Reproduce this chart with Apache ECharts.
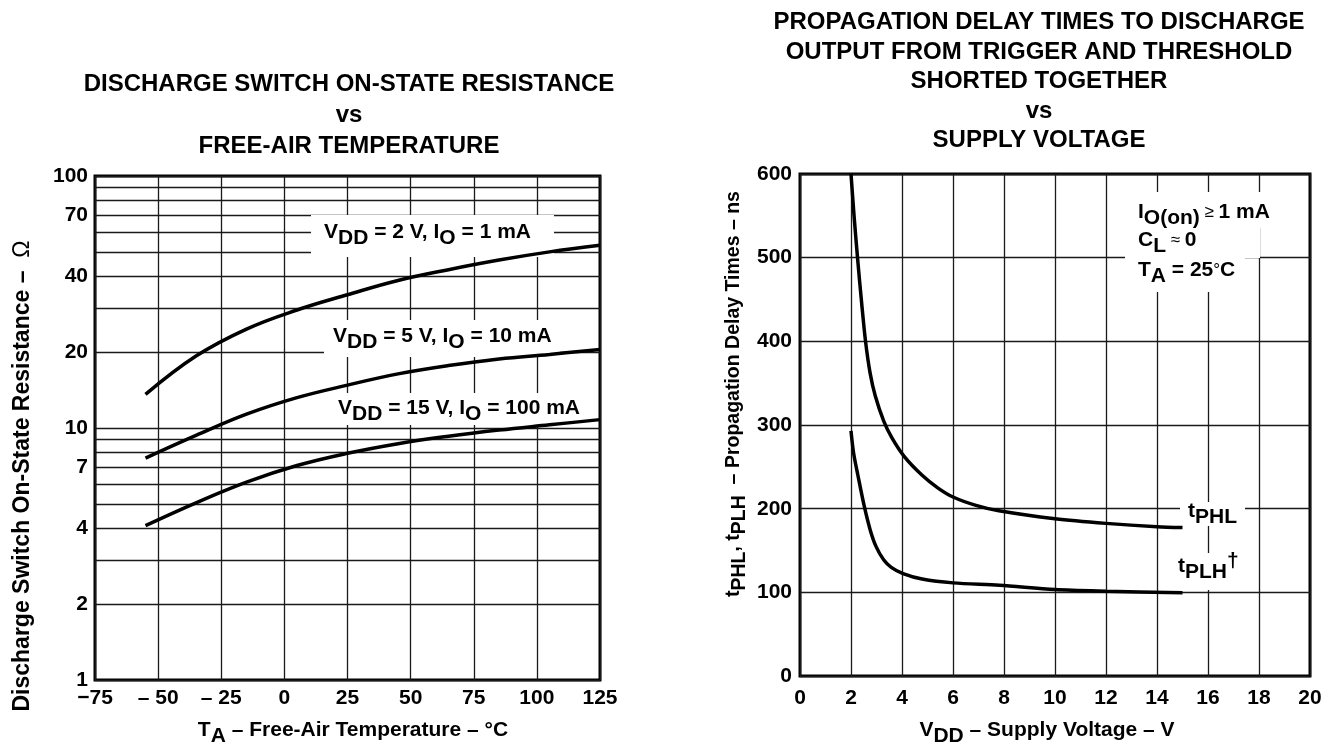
<!DOCTYPE html>
<html>
<head>
<meta charset="utf-8">
<script src="https://cdn.jsdelivr.net/npm/echarts@6/dist/echarts.min.js"></script>
<style>
html,body{margin:0;padding:0;background:#fff;}
#c{width:1330px;height:752px;}
</style>
</head>
<body>
<div id="c"></div>
<script>
// ---------- Left chart data ----------
const tempC = [-55, -35, -15, 5, 25, 45, 65, 85, 105, 125];
const ron2V = [13.6, 19.3, 24.7, 29.4, 33.8, 38.5, 42.5, 46.4, 50.0, 53.1];
const ron5V = [7.6, 9.35, 11.35, 13.2, 14.8, 16.4, 17.7, 18.8, 19.6, 20.5];
const ron15V = [4.1, 5.05, 6.1, 7.1, 7.94, 8.67, 9.28, 9.82, 10.3, 10.8];
const tempTickLabels = ['\u221275', '\u2013 50', '\u2013 25', '0', '25', '50', '75', '100', '125'];
const ronLabelValues = [1, 2, 4, 7, 10, 20, 40, 70, 100];
const ronGridValues = [1, 2, 3, 4, 5, 6, 7, 8, 9, 10, 20, 30, 40, 50, 60, 70, 80, 90, 100];

// ---------- Right chart data ----------
const vddPHL = [2.0, 2.12, 2.27, 2.42, 2.57, 2.75, 2.95, 3.28, 3.6, 4.1, 4.79, 5.4, 6.0, 6.9, 7.8, 10, 12, 14, 15];
const tPHL = [600, 550, 495, 445, 400, 362, 335, 305, 285, 262, 240, 225, 214, 204, 197.5, 188, 182.5, 178.5, 177.5];
const vddPLH = [2.0, 2.1, 2.27, 2.52, 2.75, 2.98, 3.28, 3.58, 4.04, 4.79, 6.0, 7.82, 10, 12, 15];
const tPLH = [293, 267, 240, 203, 175, 155, 139, 130, 122.5, 116, 111.4, 108.6, 103.5, 101.5, 99.5];

const FONT = '"Liberation Sans", Arial, Helvetica, sans-serif';
const FS = 21;
function pairs(xs, ys) { return xs.map((x, i) => [x, ys[i]]); }

function makeRich(fs) {
  return {
    n: { fontFamily: FONT, fontSize: fs, fontWeight: 'bold', color: '#000', lineHeight: fs + 1 },
    s: { fontFamily: FONT, fontSize: fs, fontWeight: 'bold', color: '#000', lineHeight: fs + 1, padding: [12, 0, 0, 0] },
    m: { fontFamily: FONT, fontSize: 17, fontWeight: 'normal', color: '#000', lineHeight: fs + 1 },
    o: { fontFamily: FONT, fontSize: fs, fontWeight: 'normal', color: '#000', lineHeight: fs + 1 },
    sup: { fontFamily: FONT, fontSize: fs, fontWeight: 'bold', color: '#000', lineHeight: fs + 1, padding: [0, 0, 10, 0] }
  };
}
const richBase = makeRich(FS);

const lineStyle = { color: '#000', width: 3.5 };
const splitStyle = { show: true, lineStyle: { color: '#1a1a1a', width: 1.3 } };
const labelStyle = { fontFamily: FONT, fontSize: FS, fontWeight: 'bold', color: '#000' };

function box(x, y, w, h) {
  return { type: 'rect', z: 1, shape: { x: x, y: y, width: w, height: h }, style: { fill: '#fff' }, silent: true };
}
function txt(x, y, text) {
  return { type: 'text', z: 5, x: x, y: y, style: { text: text, rich: richBase, align: 'left', verticalAlign: 'middle' }, silent: true };
}

const chart = echarts.init(document.getElementById('c'), null, { renderer: 'canvas' });
chart.setOption({
  backgroundColor: '#fff',
  animation: false,
  title: [
    { text: 'DISCHARGE SWITCH ON-STATE RESISTANCE\nvs\nFREE-AIR TEMPERATURE', left: 344, top: 64, textAlign: 'center',
      textStyle: { fontFamily: FONT, fontSize: 24, fontWeight: 'bold', color: '#000', lineHeight: 31 } },
    { text: 'PROPAGATION DELAY TIMES TO DISCHARGE\nOUTPUT FROM TRIGGER AND THRESHOLD\nSHORTED TOGETHER\nvs\nSUPPLY VOLTAGE', left: 1034, top: 3, textAlign: 'center',
      textStyle: { fontFamily: FONT, fontSize: 24, fontWeight: 'bold', color: '#000', lineHeight: 29.5 } }
  ],
  grid: [
    { left: 95, right: 730, top: 176, bottom: 67, show: true, borderColor: '#000', borderWidth: 3, backgroundColor: 'transparent' },
    { left: 800, right: 20, top: 174, bottom: 71, show: true, borderColor: '#000', borderWidth: 3, backgroundColor: 'transparent' }
  ],
  xAxis: [
    { type: 'value', gridIndex: 0, min: -75, max: 125, interval: 25,
      axisLine: { show: false }, axisTick: { show: false }, splitLine: splitStyle,
      axisLabel: Object.assign({}, labelStyle, { margin: 8, formatter: v => tempTickLabels[Math.round((v + 75) / 25)] }),
      name: '{n|T}{s|A}{n| \u2013 Free-Air Temperature \u2013 \u00b0C}', nameLocation: 'middle', nameGap: 30,
      nameTextStyle: { rich: richBase, padding: [0, 0, 0, 11] } },
    { type: 'value', gridIndex: 1, min: 0, max: 20, interval: 2,
      axisLine: { show: false }, axisTick: { show: false }, splitLine: splitStyle,
      axisLabel: Object.assign({}, labelStyle, { margin: 12 }),
      name: '{n|V}{s|DD}{n| \u2013 Supply Voltage \u2013 V}', nameLocation: 'middle', nameGap: 36,
      nameTextStyle: { rich: richBase, padding: [0, 16, 0, 0] } }
  ],
  yAxis: [
    { type: 'log', gridIndex: 0, min: 1, max: 100, logBase: 10,
      axisLine: { show: false },
      axisTick: { show: false, customValues: ronGridValues },
      splitLine: splitStyle,
      axisLabel: Object.assign({}, labelStyle, { margin: 7, customValues: ronLabelValues, formatter: v => String(Math.round(v)) }),
      name: '{n|Discharge Switch On-State Resistance \u2013  }{o|\u03a9}', nameLocation: 'middle', nameRotate: 90, nameGap: 60,
      nameTextStyle: { rich: makeRich(23), padding: [0, 96, 0, 0] } },
    { type: 'value', gridIndex: 1, min: 0, max: 600, interval: 100,
      axisLine: { show: false }, axisTick: { show: false }, splitLine: splitStyle,
      axisLabel: Object.assign({}, labelStyle, { margin: 8 }),
      name: '{n|t}{s|PHL}{n|, t}{s|PLH}{n|  \u2013 Propagation Delay Times \u2013 ns}', nameLocation: 'middle', nameRotate: 90, nameGap: 56,
      nameTextStyle: { rich: makeRich(19.5), padding: [0, 0, 0, 62] } }
  ],
  series: [
    { type: 'line', name: 'VDD = 2 V', xAxisIndex: 0, yAxisIndex: 0, data: pairs(tempC, ron2V), smooth: 0.4, showSymbol: false, lineStyle: lineStyle, z: 3 },
    { type: 'line', name: 'VDD = 5 V', xAxisIndex: 0, yAxisIndex: 0, data: pairs(tempC, ron5V), smooth: 0.4, showSymbol: false, lineStyle: lineStyle, z: 3 },
    { type: 'line', name: 'VDD = 15 V', xAxisIndex: 0, yAxisIndex: 0, data: pairs(tempC, ron15V), smooth: 0.4, showSymbol: false, lineStyle: lineStyle, z: 3 },
    { type: 'line', name: 'tPHL', xAxisIndex: 1, yAxisIndex: 1, data: pairs(vddPHL, tPHL), smooth: 0.3, showSymbol: false, lineStyle: lineStyle, z: 3 },
    { type: 'line', name: 'tPLH', xAxisIndex: 1, yAxisIndex: 1, data: pairs(vddPLH, tPLH), smooth: 0.3, showSymbol: false, lineStyle: lineStyle, z: 3 }
  ],
  graphic: [
    box(311, 215, 243, 42),
    box(324, 320, 236, 37),
    box(327, 393, 263, 32),
    box(1125, 192, 160, 36),
    box(1125, 228, 135, 30),
    box(1125, 258, 120, 34),
    box(1180, 502, 65, 24),
    box(1176, 553, 66, 37),
    txt(324, 232, '{n|V}{s|DD}{n| = 2 V, I}{s|O}{n| = 1 mA}'),
    txt(333, 336, '{n|V}{s|DD}{n| = 5 V, I}{s|O}{n| = 10 mA}'),
    txt(338, 408, '{n|V}{s|DD}{n| = 15 V, I}{s|O}{n| = 100 mA}'),
    txt(1138, 212, '{n|I}{s|O(on)}{m| \u2265 }{n|1 mA}'),
    txt(1138, 240, '{n|C}{s|L}{m| \u2248 }{n|0}'),
    txt(1138, 270, '{n|T}{s|A}{n| = 25}{m|\u00b0}{n|C}'),
    txt(1188, 511, '{n|t}{s|PHL}'),
    txt(1178, 566, '{n|t}{s|PLH}{sup|\u2020}')
  ]
});
</script>
</body>
</html>
